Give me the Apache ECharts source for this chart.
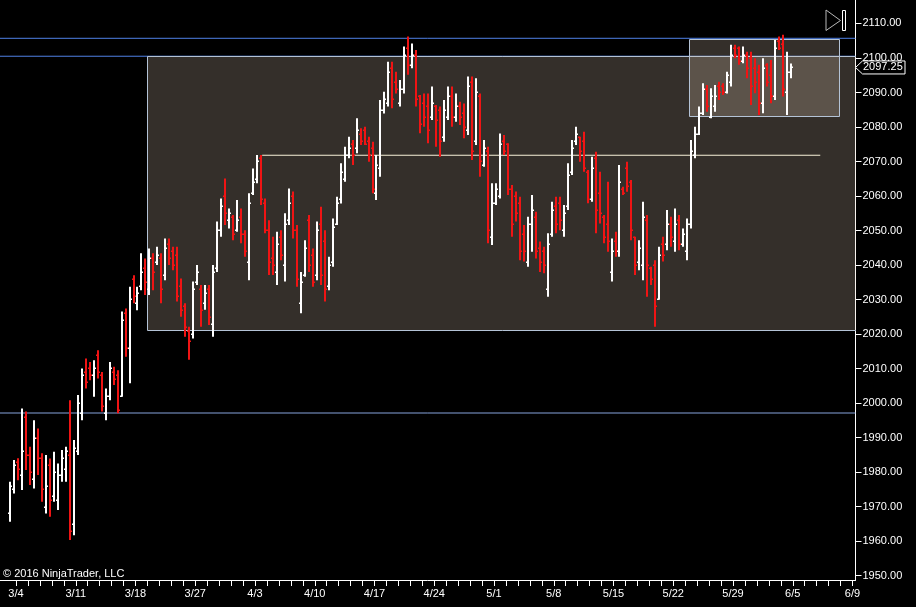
<!DOCTYPE html>
<html>
<head>
  <meta charset="UTF-8">
  <title>ES 60 min</title>
  <script src="https://cdn.jsdelivr.net/npm/echarts@6/dist/echarts.min.js"></script>
  <style>
    html, body { margin: 0; padding: 0; background: #000; }
    #main { width: 916px; height: 607px; }
  </style>
</head>
<body>
<div id="main"></div>
<script>
  // bars, [open, close, low, high], three bars per session day
  const barsMarch = [
    [1968, 1976, 1965.6, 1977.2], [1975, 1982, 1973.8, 1983.5], [1983, 1981, 1977.6, 1984], [1979, 1986, 1974.8, 1998.4],
    [1996, 1985, 1980.6, 1997.5], [1985, 1980, 1976.2, 1987.3], [1978, 1990, 1975.2, 1995], [1990, 1984, 1979.1, 1992.6],
    [1984, 1975, 1971.4, 1985.4], [1970, 1976, 1968, 1984.9], [1982, 1972, 1967, 1983.9], [1973, 1980, 1971.4, 1985.9],
    [1972, 1979, 1969, 1982.5], [1979, 1984, 1977.2, 1986.4], [1981, 1986, 1977.2, 1987.3], [1985, 1963, 1960.3, 2000.8],
    [1965, 1987, 1961.7, 1989.3], [1986, 2000, 1984.9, 2002.3], [1997, 2008, 1995, 2010], [2009, 2006, 2004.2, 2012.9],
    [2010, 2008, 2006.6, 2011.9], [2008, 2010, 2001.8, 2012.4], [2014, 2009, 2007.1, 2015.3], [2008, 1999, 1997.5, 2009],
    [1997, 2002, 1995, 2004.2], [2002, 2010, 2000.8, 2011.9], [2009, 2007, 2005.2, 2010.5], [2008, 1998, 1997, 2009.5],
    [2002, 2024, 2001.8, 2026.5], [2026, 2016, 2013.4, 2027.4], [2016, 2030, 2005.7, 2033.7], [2036, 2031, 2028.9, 2037],
    [2029, 2032, 2026.9, 2033.7], [2034, 2038, 2032.7, 2043.4], [2039, 2035, 2031.3, 2041.9], [2033, 2042, 2031.3, 2044.8],
    [2042, 2038, 2032.7, 2043.4], [2041, 2043, 2040, 2045.3], [2042, 2033, 2028.9, 2043.4], [2037, 2045, 2035.6, 2047.7],
    [2046, 2042, 2040, 2047.7], [2044, 2040, 2038.5, 2045.3], [2043, 2031, 2029.4, 2045.3], [2034, 2027, 2025, 2036.1],
    [2028, 2022, 2019.2, 2028.9], [2021, 2018, 2012.5, 2022.1], [2020, 2033, 2018.7, 2035.2], [2035, 2038, 2034.2, 2040],
    [2033, 2027, 2022.1, 2034.2], [2029, 2032, 2027, 2034.2], [2033, 2025, 2022.6, 2034.2], [2023, 2038, 2019.2, 2040],
    [2039, 2050, 2038, 2052.6], [2050, 2057, 2048.2, 2059.3], [2060, 2055, 2051.6, 2065.1], [2053, 2055, 2050.6, 2056.4],
    [2054, 2049, 2047.2, 2054.5], [2050, 2053, 2049.6, 2058.8], [2054, 2049, 2046.3, 2056.4], [2049, 2044, 2042.4, 2050.1],
    [2041, 2058, 2035.6, 2060.8]
  ];
  const barsApril = [
    [2061, 2064, 2060.3, 2068], [2065, 2070, 2063.7, 2071.9], [2071, 2059, 2057.4, 2071.9], [2058, 2050, 2049.2, 2059.3],
    [2050, 2041, 2037.1, 2053], [2042, 2040, 2037.1, 2048.2], [2038, 2046, 2034.2, 2049.6], [2048, 2043, 2041.4, 2050.1],
    [2040, 2052, 2035.2, 2055], [2053, 2058, 2051.6, 2062.2], [2060, 2050, 2047.7, 2061.3], [2050, 2036, 2033.7, 2051.6],
    [2029, 2035, 2026, 2038], [2037, 2045, 2036.6, 2047.2], [2053, 2040, 2038, 2054.5], [2043, 2035, 2033.7, 2044.8],
    [2037, 2050, 2035.6, 2052.6], [2052, 2037, 2034.2, 2056.9], [2047, 2033, 2029.4, 2050.1], [2034, 2040, 2032.7, 2042.4],
    [2041, 2051, 2039.5, 2053.5], [2052, 2058, 2051.6, 2059.8], [2059, 2067, 2057.8, 2069.5], [2065, 2072, 2064.1, 2074.3],
    [2072, 2074, 2070.9, 2077.2], [2075, 2072, 2069, 2076.2], [2074, 2079, 2072.4, 2082.5], [2078, 2076, 2074.8, 2079.6],
    [2079, 2075, 2074.8, 2080.1], [2076, 2072, 2069.9, 2077.2], [2074, 2062, 2060.8, 2075.7], [2061, 2069, 2058.8, 2071.9],
    [2068, 2085, 2065.6, 2087.8], [2085, 2088, 2083.9, 2090.2], [2087, 2096, 2085.9, 2098.9], [2097, 2088, 2085.4, 2098.9],
    [2093, 2091, 2089.7, 2096], [2087, 2091, 2085.9, 2093.6], [2091, 2101, 2089.7, 2103.3], [2103, 2098, 2095.1, 2106.2],
    [2098, 2101, 2097, 2104.2], [2101, 2088, 2085.9, 2102.3], [2089, 2081, 2078.2, 2089.3], [2087, 2083, 2080.1, 2089.7],
    [2086, 2079, 2075.3, 2089.7], [2083, 2087, 2082, 2091.7], [2086, 2082, 2074.3, 2086.4], [2085, 2076, 2071.4, 2085.9],
    [2077, 2085, 2075.7, 2087.8], [2083, 2089, 2082, 2091.7], [2089, 2083, 2080.1, 2091.7], [2083, 2086, 2081.5, 2089.7],
    [2086, 2083, 2080.6, 2087.3], [2084, 2080, 2076.7, 2086.8], [2079, 2092, 2077.7, 2094.6], [2093, 2073, 2070.4, 2094.6],
    [2076, 2090, 2074.8, 2094.1], [2089, 2070, 2065.6, 2089.7], [2069, 2074, 2068.5, 2076.2], [2073, 2050, 2046.3, 2074.3],
    [2048, 2058, 2045.8, 2063.7]
  ];
  const barsMay = [
    [2058, 2062, 2057.4, 2063.7], [2060, 2075, 2059.3, 2078.1], [2076, 2073, 2071.9, 2077.7], [2075, 2062, 2060.3, 2075.3],
    [2062, 2052, 2048.2, 2063.2], [2060, 2055, 2052.6, 2061.3], [2058, 2044, 2041.4, 2059.8], [2049, 2044, 2041, 2051.6],
    [2041, 2052, 2039.5, 2054], [2052, 2056, 2043.8, 2060.3], [2054, 2044, 2041.9, 2055.4], [2045, 2041, 2038, 2046.8],
    [2044, 2040, 2037.6, 2045.3], [2033, 2046, 2030.8, 2049.2], [2049, 2056, 2048.2, 2058.3], [2057, 2052, 2049.2, 2059.8],
    [2058, 2053, 2050.1, 2059.8], [2050, 2055, 2048.2, 2057.4], [2057, 2066, 2055.9, 2069.5], [2067, 2074, 2066.1, 2076.2],
    [2076, 2078, 2074.8, 2080.1], [2077, 2073, 2069.9, 2077.2], [2076, 2068, 2067, 2078.6], [2067, 2059, 2057.9, 2067.5],
    [2059, 2068, 2058.3, 2071.4], [2071, 2056, 2049.2, 2072.8], [2061, 2055, 2052, 2067], [2054, 2048, 2046.3, 2054.5],
    [2052, 2047, 2043.8, 2064.1], [2038, 2044, 2035.2, 2047.7], [2047, 2044, 2042.4, 2049.6], [2044, 2064, 2042.4, 2069],
    [2062, 2061, 2060.3, 2062.7], [2068, 2063, 2061.2, 2069.9], [2064, 2050, 2047.2, 2064.6], [2048, 2040, 2037.1, 2048.2],
    [2041, 2045, 2038.5, 2047.2], [2040, 2054, 2035.6, 2058.3], [2053, 2040, 2030.8, 2054.5], [2039, 2036, 2034.2, 2039.5],
    [2040, 2028, 2022.1, 2041.4], [2030, 2043, 2029.9, 2045.3], [2046, 2043, 2041, 2048.2], [2046, 2052, 2044.3, 2055.9],
    [2052, 2048, 2045.3, 2054], [2047, 2052, 2043.8, 2056.4], [2053, 2046, 2044.3, 2054.5], [2046, 2049, 2045.3, 2050.6],
    [2044, 2052, 2041.4, 2053.5], [2052, 2073, 2050.6, 2076.2], [2072, 2078, 2070.9, 2080.1], [2078, 2084, 2077.7, 2085.9],
    [2084, 2091, 2083.5, 2092.7], [2091, 2086, 2084.4, 2092.2], [2083, 2089, 2082.5, 2091.2], [2086, 2089, 2084.4, 2092.2],
    [2092, 2090, 2087.8, 2093.1], [2092, 2090, 2089.3, 2092.7], [2090, 2095, 2089.7, 2096]
  ];
  const barsJune = [
    [2093, 2101, 2091.7, 2103.8], [2103, 2101, 2099.9, 2103.8], [2103, 2099, 2098, 2103.3], [2099, 2101, 2098.5, 2103.3],
    [2101, 2097, 2094.1, 2101.8], [2100, 2092, 2086.4, 2101.8], [2097, 2093, 2089.8, 2099.9], [2096, 2087, 2083.5, 2098],
    [2087, 2097, 2084, 2099.9], [2098, 2093, 2091.7, 2098.5], [2095, 2089, 2086.9, 2099.4], [2089, 2103, 2087.8, 2105.2],
    [2105, 2103, 2102.3, 2106.2], [2104, 2091, 2088.8, 2106.7], [2090, 2096, 2083.5, 2101.8], [2096, 2097.25, 2094.1, 2098.4]
  ];

  // x axis: one unit per session day, day 0 = 3/4
  const dateLabels = ['3/4', '3/11', '3/18', '3/27', '4/3', '4/10', '4/17', '4/24', '5/1', '5/8', '5/15', '5/22', '5/29', '6/5', '6/9'];
  const priceTicks = [1950, 1960, 1970, 1980, 1990, 2000, 2010, 2020, 2030, 2040, 2050, 2060, 2070, 2080, 2090, 2100, 2110];

  // drawn objects: horizontal lines and rectangles (day, price)
  const blueLevels = [2105.7, 2100.5];
  const lowLevel = 1997.1;
  const pivotLine = { from: 20.6, to: 67.3, price: 2071.8 };
  const boxes = [
    [10.99, 2100.5, 71, 2021.1],   // range box
    [56.34, 2105.5, 68.93, 2083.1] // top box
  ];

  const xMin = -1.339, xMax = 70.25;
  const barsPerDay = 3;
  const upColor = '#ffffff';
  const downColor = '#f01414';
  const fontFamily = 'Arial, "Liberation Sans", sans-serif';

  const allBars = barsMarch.concat(barsApril, barsMay, barsJune);
  const barData = allBars.map((b, k) => [(k - 1.5) / barsPerDay, b[0], b[1], b[2], b[3]]);
  const lastClose = allBars[allBars.length - 1][1];

  const dayTicks = [];
  for (let d = 0; d <= 70; d++) dayTicks.push(d);
  const labelDays = dateLabels.map((_, i) => i * 5);

  function levelLine(p, color) {
    return {
      type: 'line', z: 1, silent: true, symbol: 'none',
      data: [[xMin, p], [xMax, p]],
      lineStyle: { color: color, width: 1 }
    };
  }
  const levelSeries = blueLevels.map(p => levelLine(p, '#4f80e6'));
  levelSeries.push(levelLine(lowLevel, '#86a3dc'));

  const chart = echarts.init(document.getElementById('main'));
  chart.setOption({
    animation: false,
    backgroundColor: '#000000',
    grid: { left: 0, top: 0, right: 60.5, bottom: 27 },
    xAxis: {
      type: 'value',
      min: xMin,
      max: xMax,
      axisLine: { show: true, onZero: false, lineStyle: { color: '#ffffff', width: 1 } },
      axisTick: { show: true, length: 6, customValues: dayTicks, lineStyle: { color: '#ffffff' } },
      axisLabel: {
        customValues: labelDays,
        formatter: v => dateLabels[labelDays.indexOf(v)] || '',
        color: '#ffffff', fontSize: 11, fontFamily, margin: 8
      },
      splitLine: { show: false }
    },
    yAxis: {
      type: 'value',
      position: 'right',
      min: 1948.7,
      max: 2116.8,
      axisLine: { show: true, onZero: false, lineStyle: { color: '#ffffff', width: 1 } },
      axisTick: { show: true, length: 6, customValues: priceTicks, lineStyle: { color: '#ffffff' } },
      axisLabel: {
        customValues: priceTicks,
        formatter: v => v.toFixed(2),
        color: '#ffffff', fontSize: 11, fontFamily, margin: 7
      },
      splitLine: { show: false }
    },
    series: levelSeries.concat([
      {
        type: 'custom', z: 2, silent: true, clip: true,
        data: boxes,
        encode: { x: [0, 2], y: [1, 3] },
        renderItem: function (params, api) {
          const a = api.coord([api.value(0), api.value(1)]);
          const b = api.coord([api.value(2), api.value(3)]);
          return {
            type: 'rect',
            shape: { x: Math.round(a[0]) + 0.5, y: Math.round(a[1]) + 0.5, width: Math.round(b[0] - a[0]), height: Math.round(b[1] - a[1]) },
            style: { fill: 'rgba(225, 205, 180, 0.23)', stroke: '#b4c3d6', lineWidth: 1 }
          };
        }
      },
      {
        type: 'line', z: 3, silent: true, symbol: 'none',
        data: [[pivotLine.from, pivotLine.price], [pivotLine.to, pivotLine.price]],
        lineStyle: { color: '#f7f2d8', width: 1.2 }
      },
      {
        type: 'custom', z: 4, silent: true,
        data: barData,
        encode: { x: 0, y: [1, 2, 3, 4] },
        renderItem: function (params, api) {
          const x = api.value(0);
          const o = api.coord([x, api.value(1)]);
          const c = api.coord([x, api.value(2)]);
          const l = api.coord([x, api.value(3)]);
          const h = api.coord([x, api.value(4)]);
          const color = api.value(2) >= api.value(1) ? upColor : downColor;
          const px = Math.round(l[0]);
          return {
            type: 'group',
            children: [
              { type: 'rect', shape: { x: px - 1, y: h[1], width: 2, height: Math.max(1, l[1] - h[1]) }, style: { fill: color } },
              { type: 'rect', shape: { x: px - 2, y: Math.round(o[1]) - 0.5, width: 2, height: 1.5 }, style: { fill: color } },
              { type: 'rect', shape: { x: px, y: Math.round(c[1]) - 0.5, width: 2, height: 1.5 }, style: { fill: color } }
            ]
          };
        }
      }
    ])
  });

  // price marker on the right axis, chart title icon and copyright
  const yLast = chart.convertToPixel({ yAxisIndex: 0 }, lastClose);
  const axisX = chart.convertToPixel({ xAxisIndex: 0 }, xMax);
  chart.setOption({
    graphic: [
      {
        type: 'polygon', z: 100,
        shape: { points: [[axisX, yLast], [axisX + 7, yLast - 6.5], [905, yLast - 6.5], [905, yLast + 6.5], [axisX + 7, yLast + 6.5]] },
        style: { fill: '#000000', stroke: '#ffffff', lineWidth: 1 }
      },
      {
        type: 'text', z: 101, x: 863, y: yLast,
        style: { text: lastClose.toFixed(2), fill: '#ffffff', font: '11px ' + fontFamily, verticalAlign: 'middle' }
      },
      {
        type: 'polygon', z: 100,
        shape: { points: [[826, 10], [840.5, 20.5], [826, 30.5]] },
        style: { fill: 'none', stroke: '#b8b8b8', lineWidth: 1 }
      },
      {
        type: 'rect', z: 100,
        shape: { x: 842.5, y: 10.5, width: 3, height: 20 },
        style: { fill: 'none', stroke: '#ffffff', lineWidth: 1 }
      },
      {
        type: 'text', z: 100, x: 3, y: 574,
        style: { text: '\u00a9 2016 NinjaTrader, LLC', fill: '#ffffff', font: '11px ' + fontFamily, verticalAlign: 'middle' }
      }
    ]
  });
</script>
</body>
</html>
